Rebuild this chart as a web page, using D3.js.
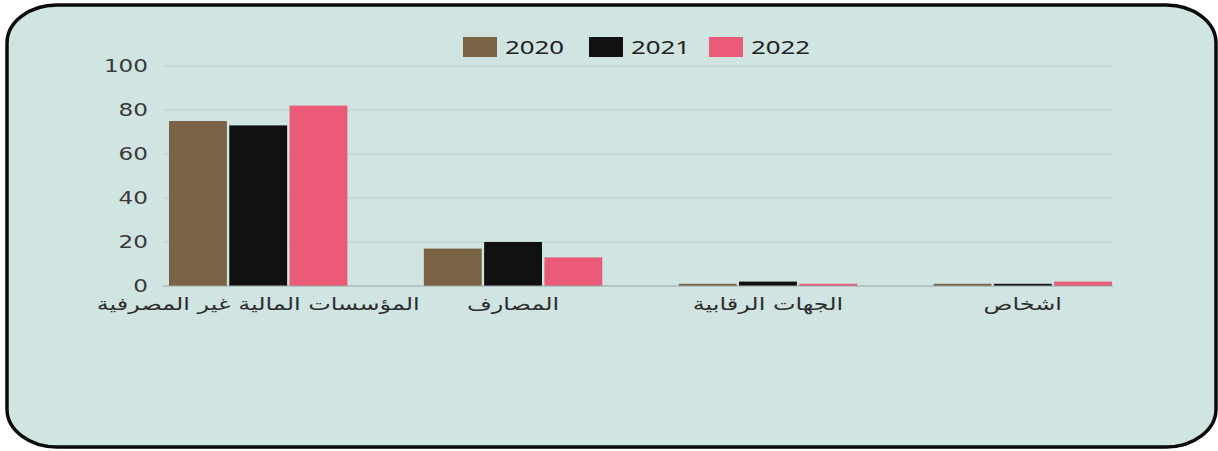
<!DOCTYPE html>
<html>
<head>
<meta charset="utf-8">
<script src="https://cdn.jsdelivr.net/npm/d3@7"></script>
<style>
  body { margin: 0; background: #fff; }
  svg { display: block; font-family: "Noto Sans", "DejaVu Sans", sans-serif; }
</style>
</head>
<body>
<div class="chart"></div>
<script>
var categories = ['المؤسسات المالية غير المصرفية', 'المصارف', 'الجهات الرقابية', 'اشخاص'];
var years = ['2020', '2021', '2022'];
var values2020 = [75, 17, 1, 1];
var values2021 = [73, 20, 2, 1];
var values2022 = [82, 13, 1, 2];
var yTicks = [0, 20, 40, 60, 80, 100];
var colors = ['#7a6344', '#111111', '#ea5b79'];

var W = 1218, H = 451;
var stretch = 1.36;  // the picture's text is drawn wide
var series = [values2020, values2021, values2022];

var data = categories.map(function(c, i) {
    return { name: c, vals: years.map(function(y, j) { return { year: y, value: series[j][i] }; }) };
});

var svg = d3.select('.chart').append('svg')
    .attr('width', W)
    .attr('height', H);

// rounded panel
svg.append('rect')
    .attr('x', 7).attr('y', 5)
    .attr('width', 1209).attr('height', 442)
    .attr('rx', 50).attr('ry', 38)
    .attr('fill', '#d0e4e2')
    .attr('stroke', '#0a0a0a')
    .attr('stroke-width', 3.5);

var x0 = d3.scaleBand()
    .domain(categories)
    .range([169, 1112])
    .paddingInner(0.3)
    .paddingOuter(0);

var x1 = d3.scaleBand()
    .domain(years)
    .range([0, x0.bandwidth()])
    .paddingInner(0.04);

var y = d3.scaleLinear()
    .domain([0, 100])
    .range([286, 66]);

// grid
svg.append('g')
    .selectAll('line')
    .data(yTicks.filter(function(d) { return d > 0; }))
    .enter().append('line')
    .attr('x1', 163).attr('x2', 1113)
    .attr('y1', function(d) { return y(d); })
    .attr('y2', function(d) { return y(d); })
    .attr('stroke', '#bcd0ce')
    .attr('stroke-width', 1);

// y axis
var yAxis = svg.append('g')
    .attr('transform', 'translate(163,0)')
    .call(d3.axisLeft(y).tickValues(yTicks).tickSize(0).tickPadding(15));
yAxis.select('.domain').remove();
yAxis.selectAll('text')
    .attr('x', -15 / stretch)
    .attr('dy', '0.3em')
    .attr('transform', 'scale(' + stretch + ',1)')
    .attr('fill', '#3a3a3a')
    .style('font-family', '"DejaVu Sans", sans-serif')
    .style('font-size', '17px');

// bars
var groups = svg.append('g')
    .selectAll('g')
    .data(data)
    .enter().append('g')
    .attr('transform', function(d) { return 'translate(' + x0(d.name) + ',0)'; });

groups.selectAll('rect')
    .data(function(d) { return d.vals; })
    .enter().append('rect')
    .attr('x', function(d) { return x1(d.year); })
    .attr('y', function(d) { return y(d.value); })
    .attr('width', x1.bandwidth())
    .attr('height', function(d) { return y(0) - y(d.value); })
    .attr('fill', function(d, i) { return colors[i]; });

// baseline
svg.append('line')
    .attr('x1', 163).attr('x2', 1113)
    .attr('y1', y(0)).attr('y2', y(0))
    .attr('stroke', '#9aa6a5')
    .attr('stroke-width', 1);

// x labels
var xAxis = svg.append('g')
    .attr('transform', 'translate(0,' + y(0) + ')')
    .call(d3.axisBottom(x0).tickSize(0).tickPadding(12));
xAxis.select('.domain').remove();
xAxis.selectAll('text')
    .attr('transform', 'scale(1.37,1)')
    .attr('fill', '#2e2e2e')
    .style('font-family', '"DejaVu Sans", sans-serif')
    .style('font-size', '17.5px');

// legend
var legendX = [463, 589, 709];
var legend = svg.append('g')
    .selectAll('g')
    .data(years)
    .enter().append('g')
    .attr('transform', function(d, i) { return 'translate(' + legendX[i] + ',37)'; });
legend.append('rect')
    .attr('width', 34).attr('height', 20)
    .attr('fill', function(d, i) { return colors[i]; });
legend.append('text')
    .attr('transform', 'translate(42,17) scale(' + stretch + ',1)')
    .attr('fill', '#222')
    .style('font-size', '19px')
    .text(function(d) { return d; });
</script>
</body>
</html>
